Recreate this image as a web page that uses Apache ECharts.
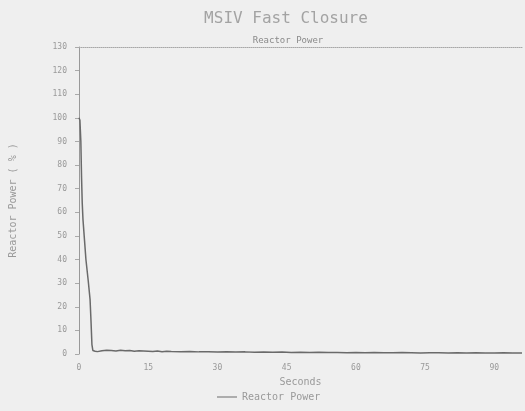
<!DOCTYPE html>
<html><head><meta charset="utf-8">
<script src="https://cdn.jsdelivr.net/npm/echarts@6/dist/echarts.min.js"></script>
<style>html,body{margin:0;padding:0;background:#efefef}#c{width:525px;height:411px}</style>
</head><body><div id="c"></div>
<script>
const titleText = "MSIV Fast Closure";
const subtitleText = "Reactor Power";
const xName = "Seconds";
const yName = "Reactor Power ( % )";
const seriesName = "Reactor Power";
const yTicks = [0,10,20,30,40,50,60,70,80,90,100,110,120,130];
const xTicks = [0,15,30,45,60,75,90];
const timeSec = [0,0.2,0.4,0.55,0.7,0.86,1.2,1.5,2.0,2.4,2.6,2.8,3.0,3.5,4,5,6,7,8,9,10,11,12,13,14,15,16,17,18,19,20,22,24,26,28,30,32,34,36,38,40,42,44,46,48,50,52,54,56,58,60,62,64,66,68,70,72,74,76,78,80,82,84,86,88,90,92,94,96];
const powerPct = [100,99,90,75,64,57,48,40,31,23,14,4,1.5,1.2,1.0,1.4,1.6,1.5,1.3,1.6,1.4,1.5,1.2,1.4,1.3,1.2,1.1,1.3,1.0,1.2,1.1,1.0,1.1,0.9,1.0,0.8,0.9,0.8,0.9,0.7,0.8,0.7,0.8,0.6,0.7,0.6,0.7,0.6,0.6,0.5,0.6,0.5,0.6,0.5,0.5,0.6,0.5,0.4,0.5,0.5,0.4,0.5,0.4,0.5,0.4,0.4,0.5,0.4,0.4];
const data = timeSec.map((t,i)=>[t,powerPct[i]]);
const chart = echarts.init(document.getElementById('c'));
const txt = '#999999';
const mono = 'DejaVu Sans Mono';
chart.setOption({
  backgroundColor:'#efefef',
  animation:false,
  title:[
    {text:titleText,left:281,top:6,textAlign:'center',textStyle:{fontFamily:mono,fontSize:16,fontWeight:'normal',color:'#a3a3a3'}},
    {text:subtitleText,left:283,top:31,textAlign:'center',textStyle:{fontFamily:mono,fontSize:9,fontWeight:'normal',color:'#8a8a8a'}}
  ],
  legend:{bottom:4,left:212,itemWidth:20,itemHeight:1,itemGap:6,icon:'rect',data:[seriesName],textStyle:{fontSize:10,color:txt,fontFamily:mono}},
  grid:{left:78,right:3,top:47,bottom:57},
  xAxis:[{type:'value',min:0,max:96,interval:15,name:xName,nameLocation:'middle',nameGap:23,
    nameTextStyle:{fontSize:10,color:txt,fontFamily:mono},
    axisLine:{show:false},axisTick:{show:false},splitLine:{show:false},
    axisLabel:{fontSize:8,color:txt,margin:10,showMaxLabel:false,fontFamily:mono}},
    {type:'value',position:'top',min:0,max:96,axisLine:{show:true,onZero:false,lineStyle:{color:'#a8a8a8',type:'dotted',width:1}},axisTick:{show:false},axisLabel:{show:false},splitLine:{show:false}}],
  yAxis:{type:'value',min:0,max:130,interval:10,name:yName,nameLocation:'middle',nameGap:61,
    nameTextStyle:{fontSize:10,color:txt,fontFamily:mono},
    axisLine:{show:true,lineStyle:{color:'#999',width:1}},
    axisTick:{show:true,length:4,lineStyle:{color:'#aaa'}},
    splitLine:{show:false},axisLabel:{fontSize:8,color:txt,margin:12,fontFamily:mono}},
  series:[{name:seriesName,type:'line',data:data,showSymbol:false,lineStyle:{color:'#6a6a6a',width:1.5},itemStyle:{color:'#6a6a6a'}}]
});
</script></body></html>
